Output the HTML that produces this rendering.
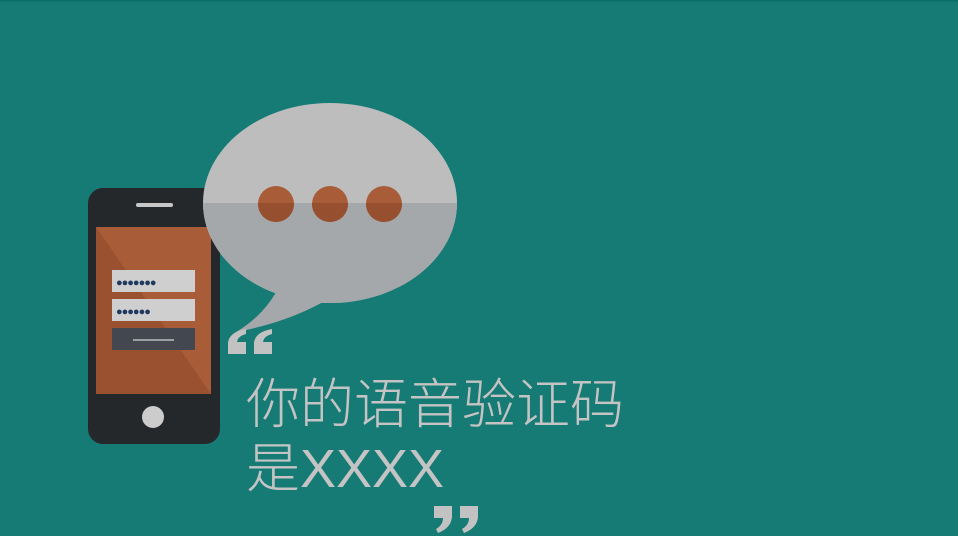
<!DOCTYPE html>
<html><head><meta charset="utf-8"><style>
html,body{margin:0;padding:0;background:#167a75;}
svg{display:block}
</style></head><body>
<svg width="958" height="536" viewBox="0 0 958 536">
<rect x="0" y="0" width="958" height="536" fill="#167a75"/>
<rect x="0" y="0" width="958" height="1.5" fill="#0a6e68"/>
<g>
<rect x="88" y="188" width="132" height="256" rx="15" fill="#25282b"/>
<rect x="136" y="203" width="37" height="4" rx="2" fill="#c8c8c8"/>
<rect x="96" y="227" width="115" height="167" fill="#a85d38"/>
<polygon points="96,227 211,394 96,394" fill="#9a5130"/>
<rect x="112" y="270" width="83" height="22" fill="#cfcfcf"/>
<text x="116" y="286" font-family="Liberation Sans, sans-serif" font-size="11" fill="#1f3a5f" letter-spacing="-1">●●●●●●●</text>
<rect x="112" y="299" width="83" height="22" fill="#cfcfcf"/>
<text x="116" y="315" font-family="Liberation Sans, sans-serif" font-size="11" fill="#1f3a5f" letter-spacing="-1">●●●●●●</text>
<rect x="112" y="328" width="83" height="22" fill="#43474f"/>
<rect x="133" y="339" width="41" height="2" fill="#9aa0a4"/>
<circle cx="153" cy="417" r="11" fill="#cccccc"/>
</g>
<g>
<defs><clipPath id="bot"><rect x="190" y="203" width="280" height="160"/></clipPath></defs>
<path d="M280,285 Q265,315 236,332 Q290,322 330,298 Z" fill="#a4a8aa"/>
<ellipse cx="330" cy="203" rx="127" ry="100" fill="#bdbdbd"/>
<ellipse cx="330" cy="203" rx="127" ry="100" fill="#a4a8aa" clip-path="url(#bot)"/>
<g>
<circle cx="276" cy="204" r="18" fill="#a85d38"/>
<circle cx="330" cy="204" r="18" fill="#a85d38"/>
<circle cx="384" cy="204" r="18" fill="#a85d38"/>
<g clip-path="url(#bot)" fill="#96502f">
<circle cx="276" cy="204" r="18"/><circle cx="330" cy="204" r="18"/><circle cx="384" cy="204" r="18"/>
</g></g>
</g>
<g fill="#c2c2c2">
<path d="M228,343 Q229,332 246,329 L246,334 Q238,336 237,342 L246,342 L246,354 L228,354 Z"/>
<path d="M254,343 Q255,332 272,329 L272,334 Q264,336 263,342 L272,342 L272,354 L254,354 Z"/>
</g>
<g fill="#c2c2c2">
<path d="M434,506 L452,506 L452,517 Q451,528 438,533 L436,529 Q443,525 443,518 L434,518 Z"/>
<path d="M460,506 L478,506 L478,517 Q477,528 464,533 L462,529 Q469,525 469,518 L460,518 Z"/>
</g>
<text x="246" y="423" font-family="Liberation Sans, Noto Sans CJK SC, sans-serif" font-weight="300" font-size="54" fill="#c4c4c4">你的语音验证码</text>
<text x="246" y="487" font-family="Liberation Sans, Noto Sans CJK SC, sans-serif" font-weight="300" font-size="54" fill="#c4c4c4">是XXXX</text>
</svg>
</body></html>
